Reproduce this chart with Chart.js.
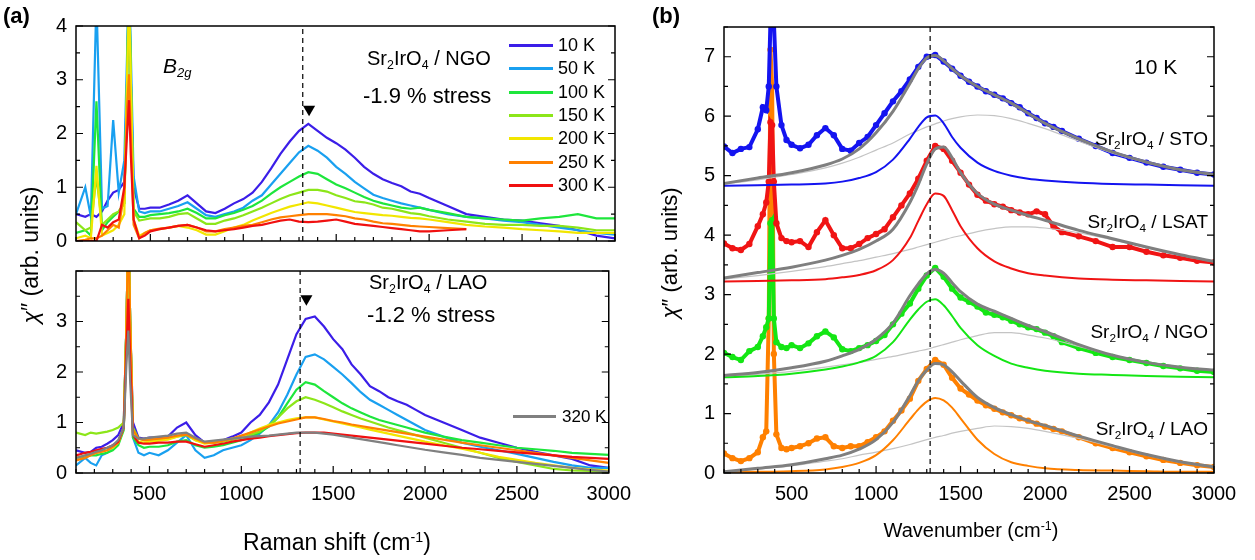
<!DOCTYPE html>
<html>
<head>
<meta charset="utf-8">
<script src="https://cdn.jsdelivr.net/npm/chart.js@4.4.1/dist/chart.umd.min.js"></script>
<style>
  body { margin: 0; background: #fff; font-family: "Liberation Sans", Arial, sans-serif; }
  #wrap { position: relative; width: 1255px; height: 560px; overflow: hidden; }
  canvas { position: absolute; }
  .t { position: absolute; line-height: 1; white-space: nowrap; color: #000; }
  .t sub { font-size: 0.62em; vertical-align: -0.3em; line-height: 0; }
  .t sup { font-size: 0.62em; vertical-align: 0.55em; line-height: 0; }
  .rot { transform: translate(-50%, -50%) rotate(-90deg); }
  .leg { position: absolute; height: 3px; }
</style>
</head>
<body>
<div id="wrap">
  <canvas id="aTop" width="640" height="262" style="left:0;top:0"></canvas>
  <canvas id="aBot" width="640" height="310" style="left:0;top:250px"></canvas>
  <canvas id="bChart" width="605" height="560" style="left:650px;top:0"></canvas>

  <div class="t" style="left:3px;top:5px;font-size:22px;font-weight:bold">(a)</div>
  <div class="t" style="left:652px;top:5px;font-size:22px;font-weight:bold">(b)</div>

  <div class="t" style="left:163px;top:55px;font-size:21px;font-style:italic">B<sub>2g</sub></div>
  <div class="t" style="left:367px;top:48px;font-size:20px">Sr<sub>2</sub>IrO<sub>4</sub> / NGO</div>
  <div class="t" style="left:363px;top:85px;font-size:22px">-1.9 % stress</div>
  <div class="t" style="left:369px;top:272px;font-size:20px">Sr<sub>2</sub>IrO<sub>4</sub> / LAO</div>
  <div class="t" style="left:367px;top:304px;font-size:22px">-1.2 % stress</div>

  <div id="legA"></div>

  <div class="t" style="left:337px;top:542px;font-size:23px;transform:translate(-50%,-50%)">Raman shift (cm<sup>-1</sup>)</div>
  <div class="t rot" style="left:30px;top:255px;font-size:23px"><i>χ</i>″ (arb. units)</div>

  <div class="t" style="left:1134px;top:56px;font-size:21px">10 K</div>
  <div class="t" style="right:47px;top:129px;font-size:19px">Sr<sub>2</sub>IrO<sub>4</sub> / STO</div>
  <div class="t" style="right:47px;top:212px;font-size:19px">Sr<sub>2</sub>IrO<sub>4</sub> / LSAT</div>
  <div class="t" style="right:47px;top:322px;font-size:19px">Sr<sub>2</sub>IrO<sub>4</sub> / NGO</div>
  <div class="t" style="right:47px;top:419px;font-size:19px">Sr<sub>2</sub>IrO<sub>4</sub> / LAO</div>
  <div class="t" style="left:971px;top:530px;font-size:20px;transform:translate(-50%,-50%)">Wavenumber (cm<sup>-1</sup>)</div>
  <div class="t rot" style="left:670px;top:253px;font-size:22px"><i>χ</i>″ (arb. units)</div>
</div>

<script>
// ---- panel (a): shared Raman shift grid ----
const X_A = [100,150,180,210,240,270,300,330,360,375,385,395,410,440,470,500,550,600,650,700,750,800,850,900,950,1000,1050,1100,1150,1200,1250,1300,1350,1400,1450,1500,1550,1600,1650,1700,1750,1800,1850,1900,1950,2000,2100,2200,2300,2400,2500,2600,2700,2800,2900,3000];
const X_TICKS = [500, 1000, 1500, 2000, 2500, 3000];

const TEMPS = ['10 K', '50 K', '100 K', '150 K', '200 K', '250 K', '300 K'];
const TEMP_COLORS = ['#3b1ee8', '#19a0f0', '#1ee63c', '#8ce619', '#f2e600', '#ff8000', '#f01010'];

// Sr2IrO4 / NGO (top)
const NGO_10K  = [0.5,0.45,0.5,0.45,0.55,0.75,0.9,0.95,1.1,3.0,5.0,3.0,1.0,0.6,0.6,0.62,0.62,0.68,0.75,0.85,0.7,0.55,0.52,0.6,0.7,0.78,0.9,1.1,1.35,1.62,1.85,2.05,2.18,2.05,1.92,1.82,1.7,1.55,1.38,1.25,1.15,1.08,1.02,0.92,0.88,0.8,0.65,0.5,0.45,0.4,0.38,0.33,0.28,0.2,0.1,0.05];
const NGO_50K  = [0.5,1.0,0.45,4.5,0.6,0.65,2.25,0.9,1.5,3.5,5.0,3.5,1.2,0.55,0.52,0.55,0.55,0.6,0.65,0.72,0.6,0.48,0.45,0.5,0.55,0.62,0.75,0.85,1.05,1.25,1.45,1.65,1.77,1.68,1.55,1.38,1.25,1.1,0.98,0.86,0.8,0.75,0.7,0.66,0.62,0.58,0.5,0.45,0.42,0.38,0.35,0.3,0.25,0.2,0.15,0.12];
const NGO_100K = [0.15,0.2,0.1,2.6,0.2,0.35,0.45,0.55,0.7,3.0,5.0,3.0,0.6,0.45,0.45,0.48,0.5,0.52,0.55,0.6,0.52,0.42,0.42,0.48,0.52,0.58,0.65,0.75,0.88,1.0,1.1,1.2,1.28,1.25,1.15,1.05,0.98,0.9,0.82,0.75,0.7,0.66,0.62,0.6,0.62,0.58,0.52,0.45,0.42,0.4,0.38,0.42,0.45,0.5,0.42,0.42];
const NGO_150K = [0.35,0.2,0.25,1.2,0.3,0.4,0.5,0.55,0.7,3.0,5.0,3.0,0.55,0.38,0.4,0.42,0.42,0.45,0.5,0.52,0.42,0.32,0.32,0.38,0.42,0.48,0.55,0.62,0.7,0.78,0.85,0.9,0.95,0.95,0.92,0.85,0.8,0.74,0.72,0.68,0.62,0.6,0.56,0.52,0.5,0.46,0.4,0.36,0.32,0.3,0.3,0.28,0.28,0.25,0.2,0.2];
const NGO_200K = [0.05,0.1,0.05,1.4,0.1,0.15,0.2,0.3,0.5,3.0,4.5,3.0,0.4,0.1,0.15,0.2,0.22,0.25,0.28,0.25,0.2,0.12,0.12,0.18,0.25,0.3,0.38,0.45,0.52,0.58,0.64,0.68,0.72,0.7,0.66,0.62,0.58,0.54,0.52,0.5,0.48,0.47,0.45,0.43,0.42,0.4,0.35,0.3,0.27,0.25,0.22,0.2,0.18,0.15,0.15,0.15];
const NGO_250K = [0.0,0.02,0.05,0.05,0.1,0.2,0.3,0.25,0.9,2.5,3.1,2.0,0.3,0.05,0.15,0.2,0.23,0.25,0.28,0.3,0.25,0.18,0.18,0.22,0.25,0.28,0.3,0.35,0.4,0.44,0.46,0.48,0.5,0.5,0.5,0.48,0.46,0.42,0.4,0.36,0.33,0.32,0.3,0.28,0.27,0.26,0.24,0.22];
const NGO_300K = [0.0,0.0,0.0,0.0,0.3,0.25,0.35,0.4,1.0,2.0,2.62,1.6,0.4,0.05,0.1,0.18,0.22,0.25,0.28,0.3,0.25,0.2,0.18,0.2,0.22,0.25,0.28,0.3,0.34,0.38,0.4,0.36,0.35,0.36,0.38,0.4,0.36,0.32,0.3,0.28,0.26,0.24,0.22,0.2,0.18,0.18,0.2,0.22];

// Sr2IrO4 / LAO (bottom)
const LAO_10K  = [0.45,0.4,0.42,0.5,0.52,0.58,0.65,0.75,1.0,3.0,5.0,3.0,1.0,0.7,0.68,0.7,0.7,0.72,0.9,1.0,0.75,0.6,0.6,0.65,0.72,0.8,1.0,1.15,1.4,1.75,2.25,2.75,3.05,3.1,2.9,2.65,2.45,2.15,1.95,1.72,1.62,1.5,1.42,1.35,1.25,1.15,1.0,0.85,0.7,0.6,0.5,0.42,0.35,0.28,0.15,0.1];
const LAO_50K  = [0.15,0.3,0.2,0.15,0.35,0.4,0.5,0.6,0.9,3.0,5.0,3.0,0.7,0.4,0.35,0.4,0.35,0.45,0.6,0.75,0.45,0.3,0.35,0.45,0.5,0.55,0.65,0.78,0.95,1.2,1.55,1.95,2.3,2.35,2.25,2.1,1.95,1.78,1.6,1.45,1.35,1.25,1.15,1.05,0.95,0.85,0.72,0.6,0.52,0.45,0.38,0.3,0.22,0.15,0.1,0.1];
const LAO_100K = [0.3,0.32,0.35,0.35,0.38,0.4,0.45,0.55,0.85,3.0,5.0,3.0,0.7,0.55,0.5,0.52,0.52,0.55,0.62,0.65,0.55,0.5,0.52,0.55,0.6,0.65,0.72,0.8,0.92,1.1,1.38,1.65,1.8,1.75,1.62,1.5,1.38,1.28,1.2,1.12,1.05,1.0,0.95,0.9,0.85,0.8,0.72,0.65,0.6,0.55,0.5,0.47,0.44,0.4,0.38,0.36];
const LAO_150K = [0.8,0.75,0.8,0.78,0.8,0.82,0.85,0.9,1.0,3.0,5.0,3.0,0.9,0.68,0.65,0.65,0.66,0.68,0.72,0.75,0.65,0.6,0.6,0.62,0.66,0.7,0.76,0.82,0.95,1.1,1.28,1.42,1.5,1.45,1.38,1.3,1.22,1.15,1.08,1.02,0.96,0.9,0.85,0.8,0.75,0.7,0.6,0.5,0.4,0.3,0.22,0.15,0.08,0.05,0.04,0.02];
const LAO_200K = [0.3,0.35,0.38,0.4,0.42,0.45,0.5,0.6,0.9,3.0,5.0,3.0,0.8,0.62,0.6,0.62,0.64,0.66,0.72,0.78,0.65,0.58,0.6,0.64,0.68,0.72,0.8,0.88,0.95,1.0,1.05,1.08,1.1,1.1,1.06,1.02,0.98,0.94,0.9,0.86,0.82,0.78,0.74,0.7,0.66,0.62,0.55,0.48,0.4,0.32,0.26,0.2,0.15,0.1,0.07,0.05];
const LAO_250K = [0.25,0.3,0.35,0.4,0.42,0.45,0.52,0.6,0.9,3.0,5.0,3.0,0.85,0.68,0.65,0.66,0.68,0.7,0.74,0.76,0.68,0.6,0.6,0.64,0.68,0.74,0.8,0.86,0.92,0.98,1.02,1.06,1.1,1.1,1.07,1.03,1.0,0.96,0.93,0.9,0.87,0.84,0.81,0.78,0.75,0.72,0.66,0.6,0.55,0.5,0.45,0.4,0.35,0.3,0.25,0.2];
const LAO_300K = [0.35,0.4,0.42,0.45,0.48,0.5,0.55,0.62,0.9,2.5,3.45,2.2,0.75,0.6,0.58,0.58,0.6,0.6,0.62,0.62,0.57,0.52,0.55,0.58,0.62,0.65,0.68,0.7,0.73,0.75,0.77,0.79,0.8,0.8,0.8,0.78,0.76,0.74,0.72,0.7,0.68,0.66,0.64,0.62,0.6,0.58,0.54,0.5,0.47,0.44,0.41,0.38,0.35,0.32,0.3,0.28];
const LAO_320K = [0.3,0.35,0.38,0.42,0.45,0.5,0.55,0.65,0.9,2.2,2.82,1.8,0.75,0.68,0.68,0.7,0.72,0.74,0.78,0.8,0.7,0.62,0.64,0.66,0.68,0.7,0.72,0.73,0.74,0.76,0.78,0.8,0.8,0.8,0.78,0.76,0.73,0.7,0.67,0.64,0.61,0.58,0.55,0.52,0.49,0.46,0.41,0.36,0.3,0.26,0.22,0.18,0.14,0.1,0.06,0.03];

const DASH_X = 1320;
const MARK_X = 1354;
const MARK_TOP = 2.45, MARK_BOT = 3.45;

// ---- panel (b): 10 K spectra on four substrates ----
const X_B = [100,150,200,250,300,330,350,365,375,385,395,410,440,470,500,550,600,650,700,750,800,850,900,950,1000,1050,1100,1150,1200,1250,1300,1350,1400,1450,1500,1550,1600,1650,1700,1750,1800,1850,1900,1950,2000,2050,2100,2200,2300,2400,2500,2600,2700,2800,2900,3000];
const STO_DATA  = [5.49,5.38,5.45,5.48,5.78,6.15,6.1,6.5,7.6,8.5,7.6,6.5,5.85,5.6,5.52,5.46,5.52,5.68,5.8,5.68,5.45,5.42,5.55,5.65,5.85,6.05,6.25,6.42,6.62,6.83,7.0,7.03,6.92,6.8,6.68,6.58,6.5,6.42,6.36,6.3,6.22,6.15,6.05,5.97,5.88,5.82,5.75,5.62,5.5,5.38,5.3,5.22,5.15,5.1,5.05,5.02];
const LSAT_DATA = [3.86,3.78,3.75,3.85,4.15,4.35,4.55,4.9,5.9,5.85,4.9,4.2,3.95,3.9,3.88,3.9,3.8,4.05,4.25,4.0,3.78,3.78,3.85,3.95,4.02,4.1,4.3,4.5,4.7,4.95,5.25,5.5,5.45,5.25,5.05,4.85,4.68,4.58,4.52,4.48,4.42,4.38,4.35,4.4,4.35,4.15,4.05,3.98,3.9,3.8,3.8,3.72,3.66,3.62,3.57,3.54];
const NGOB_DATA = [2.02,1.95,1.9,2.05,2.12,2.3,2.45,2.6,4.2,4.25,2.6,2.2,2.12,2.1,2.15,2.1,2.18,2.3,2.38,2.28,2.08,2.05,2.1,2.15,2.22,2.32,2.5,2.68,2.85,3.1,3.32,3.45,3.3,3.1,2.95,2.88,2.8,2.7,2.66,2.62,2.56,2.5,2.45,2.42,2.36,2.3,2.2,2.1,2.02,1.95,1.9,1.85,1.8,1.76,1.72,1.7];
const LAOB_DATA = [0.33,0.25,0.2,0.25,0.35,0.6,0.7,2.6,7.12,6.5,2.0,0.65,0.42,0.4,0.42,0.45,0.5,0.58,0.6,0.45,0.42,0.45,0.45,0.52,0.6,0.7,0.88,1.05,1.25,1.55,1.75,1.9,1.82,1.6,1.42,1.32,1.22,1.14,1.08,1.02,0.97,0.92,0.88,0.83,0.78,0.74,0.7,0.6,0.5,0.42,0.35,0.28,0.22,0.17,0.13,0.1];

// fit components
const X_FIT = [100,300,500,700,800,900,1000,1100,1200,1250,1300,1350,1400,1450,1500,1600,1700,1800,1900,2000,2200,2400,2600,2800,3000];
const STO_PEAK   = [4.83,4.84,4.85,4.87,4.9,4.96,5.06,5.27,5.62,5.82,5.98,6.01,5.88,5.65,5.47,5.22,5.08,5.0,4.95,4.92,4.88,4.86,4.85,4.84,4.83];
const STO_BROAD  = [4.86,4.93,5.02,5.13,5.21,5.31,5.43,5.55,5.7,5.76,5.82,5.87,5.92,5.96,5.99,6.02,6.01,5.96,5.88,5.79,5.58,5.38,5.22,5.1,5.01];
const STO_TOTAL  = [4.87,4.96,5.05,5.18,5.28,5.45,5.72,6.08,6.55,6.8,6.98,7.02,6.93,6.8,6.68,6.5,6.36,6.22,6.05,5.88,5.62,5.4,5.23,5.1,5.02];
const LSAT_PEAK  = [3.22,3.23,3.24,3.26,3.29,3.33,3.41,3.58,3.95,4.24,4.52,4.7,4.66,4.42,4.15,3.78,3.56,3.44,3.36,3.32,3.27,3.25,3.24,3.23,3.22];
const LSAT_BROAD = [3.26,3.32,3.39,3.47,3.52,3.57,3.63,3.69,3.76,3.8,3.84,3.88,3.92,3.96,3.99,4.06,4.11,4.14,4.14,4.12,4.04,3.92,3.79,3.66,3.55];
const LSAT_TOTAL = [3.28,3.37,3.46,3.58,3.66,3.76,3.9,4.1,4.55,4.85,5.2,5.45,5.48,5.3,5.05,4.7,4.52,4.42,4.33,4.25,4.08,3.94,3.8,3.67,3.56];
const NGO_PEAK   = [1.61,1.63,1.67,1.74,1.79,1.86,1.97,2.2,2.58,2.75,2.88,2.92,2.82,2.64,2.44,2.15,1.97,1.84,1.77,1.72,1.67,1.65,1.63,1.62,1.61];
const NGO_BROAD  = [1.62,1.66,1.71,1.78,1.82,1.86,1.91,1.96,2.02,2.05,2.08,2.12,2.16,2.2,2.24,2.31,2.36,2.36,2.32,2.27,2.13,1.98,1.86,1.78,1.73];
const NGO_TOTAL  = [1.64,1.69,1.77,1.88,1.97,2.08,2.25,2.52,2.98,3.18,3.35,3.42,3.36,3.2,3.05,2.84,2.72,2.6,2.48,2.38,2.16,1.98,1.86,1.78,1.73];
const LAO_PEAK   = [0.02,0.02,0.03,0.06,0.1,0.17,0.3,0.55,0.9,1.07,1.2,1.26,1.22,1.1,0.92,0.56,0.32,0.18,0.12,0.08,0.05,0.04,0.03,0.02,0.02];
const LAO_BROAD  = [0.02,0.07,0.12,0.2,0.24,0.3,0.35,0.41,0.48,0.52,0.56,0.6,0.63,0.67,0.7,0.75,0.79,0.78,0.75,0.7,0.58,0.44,0.3,0.18,0.1];
const LAO_TOTAL  = [0.02,0.08,0.14,0.24,0.3,0.4,0.56,0.85,1.3,1.55,1.73,1.84,1.82,1.7,1.55,1.27,1.1,0.98,0.88,0.8,0.62,0.46,0.31,0.19,0.1];

const FONT = '"Liberation Sans", Arial, sans-serif';
Chart.defaults.font.family = FONT;
Chart.defaults.color = '#000';

function pts(xs, ys) {
    return ys.map((y, i) => ({ x: xs[i], y: y })).filter(p => p.y !== null && p.y !== undefined);
}

// frame with inward ticks on bottom, left and right
const framePlugin = {
    id: 'frame',
    afterDatasetsDraw(chart) {
        const { ctx, chartArea: a, scales: { x, y } } = chart;
        ctx.save();
        ctx.strokeStyle = '#000';
        ctx.lineWidth = 1.5;
        ctx.strokeRect(a.left, a.top, a.right - a.left, a.bottom - a.top);
        ctx.lineWidth = 1.2;
        ctx.beginPath();
        for (let v = Math.ceil(x.min / 100) * 100; v <= x.max; v += 100) {
            const px = x.getPixelForValue(v);
            const len = v % 500 === 0 ? 7 : 4;
            ctx.moveTo(px, a.bottom);
            ctx.lineTo(px, a.bottom - len);
        }
        for (let v = y.min; v <= y.max + 1e-9; v += 0.5) {
            const py = y.getPixelForValue(v);
            const len = Math.abs(v - Math.round(v)) < 1e-9 ? 7 : 4;
            ctx.moveTo(a.left, py); ctx.lineTo(a.left + len, py);
            ctx.moveTo(a.right, py); ctx.lineTo(a.right - len, py);
        }
        ctx.stroke();
        ctx.restore();
    }
};

function lineSet(data, color, width, order) {
    return { data: data, borderColor: color, backgroundColor: color, borderWidth: width,
             pointRadius: 0, tension: 0, order: order };
}

function dashSet(yMax) {
    return { data: [{ x: DASH_X, y: 0 }, { x: DASH_X, y: yMax }], borderColor: '#000',
             borderWidth: 1.2, borderDash: [5, 4], pointRadius: 0, order: 0 };
}

function markSet(yv) {
    return { data: [{ x: MARK_X, y: yv }], showLine: false, pointStyle: 'triangle',
             rotation: 180, pointRadius: 7, backgroundColor: '#000', borderColor: '#000',
             borderWidth: 0, order: 0 };
}

function baseOptions(opts) {
    return {
        responsive: false,
        animation: false,
        devicePixelRatio: 1,
        layout: { padding: opts.padding },
        plugins: { legend: { display: false }, tooltip: { enabled: false } },
        scales: {
            x: {
                type: 'linear', min: 100, max: 3000,
                afterFit: s => { s.height = opts.xHeight; },
                afterBuildTicks: s => { s.ticks = X_TICKS.map(v => ({ value: v })); },
                grid: { display: false, drawTicks: false },
                border: { display: false },
                ticks: { display: opts.xLabels, padding: 9, font: { size: 20 }, maxRotation: 0,
                         callback: v => String(v) }
            },
            y: {
                min: 0, max: opts.yMax,
                afterFit: s => { s.width = opts.yWidth; },
                afterBuildTicks: s => { s.ticks = opts.yTicks.map(v => ({ value: v })); },
                grid: { display: false, drawTicks: false },
                border: { display: false },
                ticks: { padding: 9, font: { size: 20 }, callback: opts.yCallback || (v => String(v)) }
            }
        }
    };
}

// ---- panel (a) top ----
const ngoSeries = [NGO_10K, NGO_50K, NGO_100K, NGO_150K, NGO_200K, NGO_250K, NGO_300K];
new Chart(document.getElementById('aTop'), {
    type: 'line',
    data: {
        datasets: ngoSeries.map((s, i) => lineSet(pts(X_A, s), TEMP_COLORS[i], 2.2, 10 - i))
            .concat([dashSet(4), markSet(MARK_TOP)])
    },
    options: baseOptions({ padding: { top: 26, right: 25, bottom: 12, left: 0 },
        xHeight: 0, xLabels: false, yMax: 4, yWidth: 76, yTicks: [0, 1, 2, 3, 4] }),
    plugins: [framePlugin]
});

// ---- panel (a) bottom ----
const laoSeries = [LAO_10K, LAO_50K, LAO_100K, LAO_150K, LAO_200K, LAO_250K, LAO_300K];
new Chart(document.getElementById('aBot'), {
    type: 'line',
    data: {
        datasets: laoSeries.map((s, i) => lineSet(pts(X_A, s), TEMP_COLORS[i], 2.2, 10 - i))
            .concat([lineSet(pts(X_A, LAO_320K), '#808080', 2.2, 2), dashSet(4), markSet(MARK_BOT)])
    },
    options: baseOptions({ padding: { top: 0, right: 25, bottom: 0, left: 0 },
        xHeight: 87, xLabels: true, yMax: 4, yWidth: 76, yTicks: [0, 1, 2, 3, 4],
        yCallback: v => (v === 4 ? '' : String(v)) }),
    plugins: [framePlugin]
});

// ---- panel (b) ----
const B_COLORS = ['#1414f0', '#f01414', '#14e614', '#ff8000'];
const bData = [STO_DATA, LSAT_DATA, NGOB_DATA, LAOB_DATA];
const bPeak = [STO_PEAK, LSAT_PEAK, NGO_PEAK, LAO_PEAK];
const bBroad = [STO_BROAD, LSAT_BROAD, NGO_BROAD, LAO_BROAD];
const bTotal = [STO_TOTAL, LSAT_TOTAL, NGO_TOTAL, LAO_TOTAL];

const bSets = [];
bData.forEach((s, i) => {
    bSets.push({ data: pts(X_B, s), borderColor: B_COLORS[i], backgroundColor: B_COLORS[i],
                 borderWidth: 4, pointRadius: 3.2, pointBorderWidth: 0, tension: 0, order: 10 });
});
bBroad.forEach(s => {
    bSets.push({ data: pts(X_FIT, s), borderColor: '#c4c4c4', borderWidth: 1.2,
                 pointRadius: 0, cubicInterpolationMode: 'monotone', order: 5 });
});
bPeak.forEach((s, i) => {
    bSets.push({ data: pts(X_FIT, s), borderColor: B_COLORS[i], borderWidth: 2,
                 pointRadius: 0, cubicInterpolationMode: 'monotone', order: 4 });
});
bTotal.forEach(s => {
    bSets.push({ data: pts(X_FIT, s), borderColor: '#7f7f7f', borderWidth: 3,
                 pointRadius: 0, cubicInterpolationMode: 'monotone', order: 3 });
});
bSets.push(dashSet(7.5));

new Chart(document.getElementById('bChart'), {
    type: 'line',
    data: { datasets: bSets },
    options: baseOptions({ padding: { top: 27, right: 41, bottom: 0, left: 0 },
        xHeight: 87, xLabels: true, yMax: 7.5, yWidth: 74, yTicks: [0, 1, 2, 3, 4, 5, 6, 7] }),
    plugins: [framePlugin]
});

// ---- legend boxes drawn as html ----
const legA = document.getElementById('legA');
const legRows = [45, 68, 92, 115, 138, 162, 185];
TEMPS.forEach((t, i) => {
    legA.insertAdjacentHTML('beforeend',
        `<div class="leg" style="left:509px;top:${legRows[i] - 1.5}px;width:44px;background:${TEMP_COLORS[i]}"></div>` +
        `<div class="t" style="left:558px;top:${legRows[i] - 9}px;font-size:18px">${t}</div>`);
});
legA.insertAdjacentHTML('beforeend',
    `<div class="leg" style="left:513px;top:414.5px;width:43px;background:#808080"></div>` +
    `<div class="t" style="left:562px;top:408px;font-size:17px">320 K</div>`);
</script>
</body>
</html>
